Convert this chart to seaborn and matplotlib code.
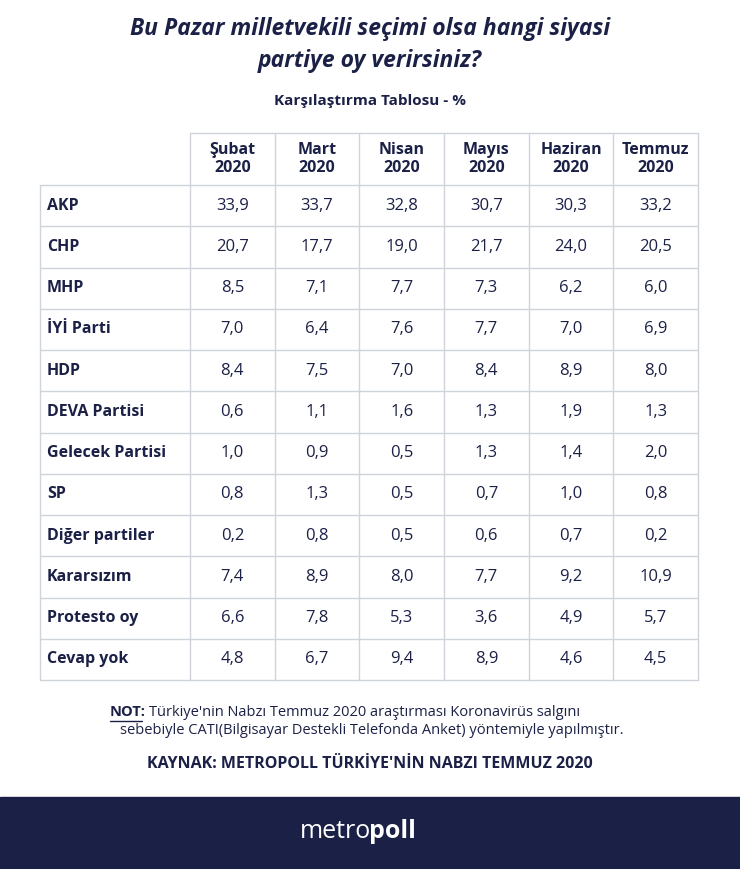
import numpy as np
import matplotlib.pyplot as plt
import seaborn as sns

sns.set_style("white")
plt.rcParams['font.family'] = ['Open Sans', 'DejaVu Sans']

months = ["Şubat\n2020", "Mart\n2020", "Nisan\n2020", "Mayıs\n2020", "Haziran\n2020", "Temmuz\n2020"]
parties = ["AKP", "CHP", "MHP", "İYİ Parti", "HDP", "DEVA Partisi", "Gelecek Partisi",
           "SP", "Diğer partiler", "Kararsızım", "Protesto oy", "Cevap yok"]
values = np.array([
    [33.9, 33.7, 32.8, 30.7, 30.3, 33.2],
    [20.7, 17.7, 19.0, 21.7, 24.0, 20.5],
    [8.5, 7.1, 7.7, 7.3, 6.2, 6.0],
    [7.0, 6.4, 7.6, 7.7, 7.0, 6.9],
    [8.4, 7.5, 7.0, 8.4, 8.9, 8.0],
    [0.6, 1.1, 1.6, 1.3, 1.9, 1.3],
    [1.0, 0.9, 0.5, 1.3, 1.4, 2.0],
    [0.8, 1.3, 0.5, 0.7, 1.0, 0.8],
    [0.2, 0.8, 0.5, 0.6, 0.7, 0.2],
    [7.4, 8.9, 8.0, 7.7, 9.2, 10.9],
    [6.6, 7.8, 5.3, 3.6, 4.9, 5.7],
    [4.8, 6.7, 9.4, 8.9, 4.6, 4.5],
])

navy = "#1b2046"
grid = "#cfd3da"
W, H = 740, 869
fig = plt.figure(figsize=(7.4, 8.69), dpi=100)

# background axes in pixel coordinates
bg = fig.add_axes([0, 0, 1, 1])
bg.set_xlim(0, W)
bg.set_ylim(H, 0)
bg.axis("off")

x0, x1, x2 = 40, 190, 698
ytop, yh, yb = 133, 185, 680
rh = (yb - yh) / len(parties)

# heatmap for the value cells
ax = fig.add_axes([x1 / W, 1 - yb / H, (x2 - x1) / W, (yb - yh) / H])
annot = np.vectorize(lambda v: f"{v:.1f}".replace(".", ","))(values)
sns.heatmap(values, ax=ax, cmap=sns.color_palette(["white"]), cbar=False,
            annot=annot, fmt="", linewidths=0,
            annot_kws={"color": navy, "fontsize": 12})
ax.set_xticks([]); ax.set_yticks([])
for s in ax.spines.values():
    s.set_visible(False)
ax.set_zorder(0)
bg.set_zorder(1)
bg.patch.set_alpha(0)

# grid lines
cw = (x2 - x1) / len(months)
for i in range(len(months) + 1):
    bg.plot([x1 + i * cw] * 2, [ytop, yb], color=grid, lw=1)
bg.plot([x0, x0], [yh, yb], color=grid, lw=1)
for j in range(len(parties) + 1):
    bg.plot([x0, x2], [yh + j * rh] * 2, color=grid, lw=1)
bg.plot([x1, x2], [ytop, ytop], color=grid, lw=1)

for i, m in enumerate(months):
    bg.text(x1 + (i + 0.5) * cw, (ytop + yh) / 2, m, ha="center", va="center",
            color=navy, fontsize=11.5, fontweight="bold", linespacing=1.15)
for j, p in enumerate(parties):
    bg.text(x0 + 7, yh + (j + 0.5) * rh, p, ha="left", va="center",
            color=navy, fontsize=11.5, fontweight="bold")

bg.text(370, 29, "Bu Pazar milletvekili seçimi olsa hangi siyasi", ha="center", va="center",
        color=navy, fontsize=16.5, fontweight="bold", style="italic")
bg.text(370, 61, "partiye oy verirsiniz?", ha="center", va="center",
        color=navy, fontsize=16.5, fontweight="bold", style="italic")
bg.text(370, 101, "Karşılaştırma Tablosu - %", ha="center", va="center",
        color=navy, fontsize=11, fontweight="bold")

bg.text(110, 712, "NOT:", ha="left", va="center", color=navy, fontsize=10.5, fontweight="bold")
bg.plot([110, 142], [721, 721], color=navy, lw=1)
bg.text(149, 712, "Türkiye'nin Nabzı Temmuz 2020 araştırması Koronavirüs salgını",
        ha="left", va="center", color=navy, fontsize=10.5)
bg.text(372, 731, "sebebiyle CATI(Bilgisayar Destekli Telefonda Anket) yöntemiyle yapılmıştır.",
        ha="center", va="center", color=navy, fontsize=10.5)
bg.text(370, 764, "KAYNAK: METROPOLL TÜRKİYE'NİN NABZI TEMMUZ 2020", ha="center", va="center",
        color=navy, fontsize=11.5, fontweight="bold")

bg.add_patch(plt.Rectangle((0, 797), W, H - 797, color=navy))
bg.text(371, 832, "metro", ha="right", va="center", color="white", fontsize=18)
bg.text(369, 832, "poll", ha="left", va="center", color="white", fontsize=18, fontweight="bold")

fig.savefig("out.png", dpi=100)
